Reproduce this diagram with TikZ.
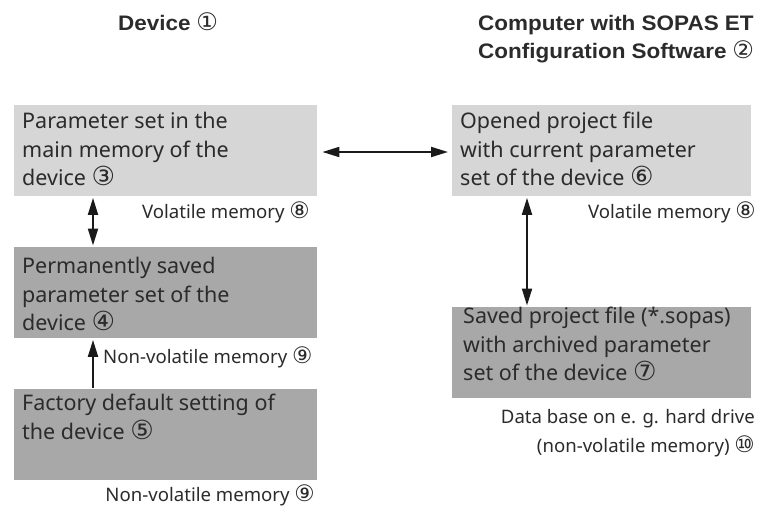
\documentclass[tikz,border=0pt]{standalone}
\usepackage{fontspec}
\setmainfont{Noto Sans}
\newfontfamily\circfont{DejaVu Sans}
\newfontfamily\titlefont{Liberation Sans}
\usetikzlibrary{arrows.meta}
\definecolor{boxlight}{HTML}{D6D6D6}
\definecolor{boxdark}{HTML}{A8A8A8}
\definecolor{txt}{HTML}{2B2B2B}
\definecolor{arr}{HTML}{1A1A1A}
\newcommand\cnum[1]{\scalebox{1.22}{\circfont\mdseries #1}}
\newcommand\tnum[1]{\scalebox{1.15}{\circfont\mdseries #1}}
\newcommand\wide[1]{\scalebox{1.07}[1]{#1}}
\begin{document}
\begin{tikzpicture}[x=1pt,y=-1pt,
  box/.style={anchor=north west, inner sep=0pt, minimum width=303pt, minimum height=91pt},
  lightbox/.style={box, fill=boxlight},
  darkbox/.style={box, fill=boxdark},
  body/.style={anchor=north west, inner sep=0pt, align=left, text=txt, font=\fontsize{21.5}{28.5}\selectfont},
  lbl/.style={inner sep=0pt, text=txt, font=\fontsize{18.6}{29}\selectfont},
  ttl/.style={inner sep=0pt, text=txt, align=left, font=\titlefont\bfseries\fontsize{21}{28}\selectfont},
  tip/.tip={Triangle[length=17pt,width=10pt]},
  conn/.style={line width=2pt, draw=arr, -tip, shorten <=1.5pt, shorten >=1.5pt},
  conn2/.style={line width=2pt, draw=arr, tip-tip, shorten <=1.5pt, shorten >=1.5pt}
]
\useasboundingbox (0,0) rectangle (757,506);

% titles
\node[ttl, anchor=base west] (t1) at (118,30) {\wide{Device} \tnum{①}};
\node[ttl, anchor=north west] (t2) at (478,15) {\wide{Computer with SOPAS ET}\\\wide{Configuration Software} \tnum{②}};

% boxes
\node[lightbox] (A) at (14,105) {};
\node[darkbox] (B) at (14,247) {};
\node[darkbox] (C) at (14,389) {};
\node[lightbox, minimum width=299pt] (D) at (452,105) {};
\node[darkbox, minimum width=299pt] (E) at (452,307) {};

% box texts
\node[body] (tA) at (22,112) {Parameter set in the\\main memory of the\\device \cnum{③}};
\node[body] (tB) at (22,257) {Permanently saved\\parameter set of the\\device \cnum{④}};
\node[body] (tC) at (22,394) {Factory default setting of\\the device \cnum{⑤}};
\node[body] (tD) at (460,112) {Opened project file\\with current parameter\\set of the device \cnum{⑥}};
\node[body] (tE) at (463,307) {Saved project file (*.sopas)\\with archived parameter\\set of the device \cnum{⑦}};

% labels
\node[lbl, anchor=base east] (l8a) at (310,218) {Volatile memory \cnum{⑧}};
\node[lbl, anchor=base east] (l8b) at (756,218) {Volatile memory \cnum{⑧}};
\node[lbl, anchor=base west] (l9a) at (103,363) {Non-volatile memory \cnum{⑨}};
\node[lbl, anchor=base east] (l9b) at (315,501) {Non-volatile memory \cnum{⑨}};
\node[lbl, anchor=north east, align=right] (l10) at (755,409) {Data base on e. g. hard drive\\(non-volatile memory) \cnum{⑩}};

% connectors
\draw[conn2] (93,0 |- A.south) -- (93,0 |- B.north);
\draw[conn] (93,0 |- C.north) -- (93,0 |- B.south);
\draw[conn2, shorten <=5pt, shorten >=4pt] (A.east |- 0,152) -- (D.west |- 0,152);
\draw[conn2] (527,0 |- D.south) -- (527,0 |- E.north);
\end{tikzpicture}
\end{document}
